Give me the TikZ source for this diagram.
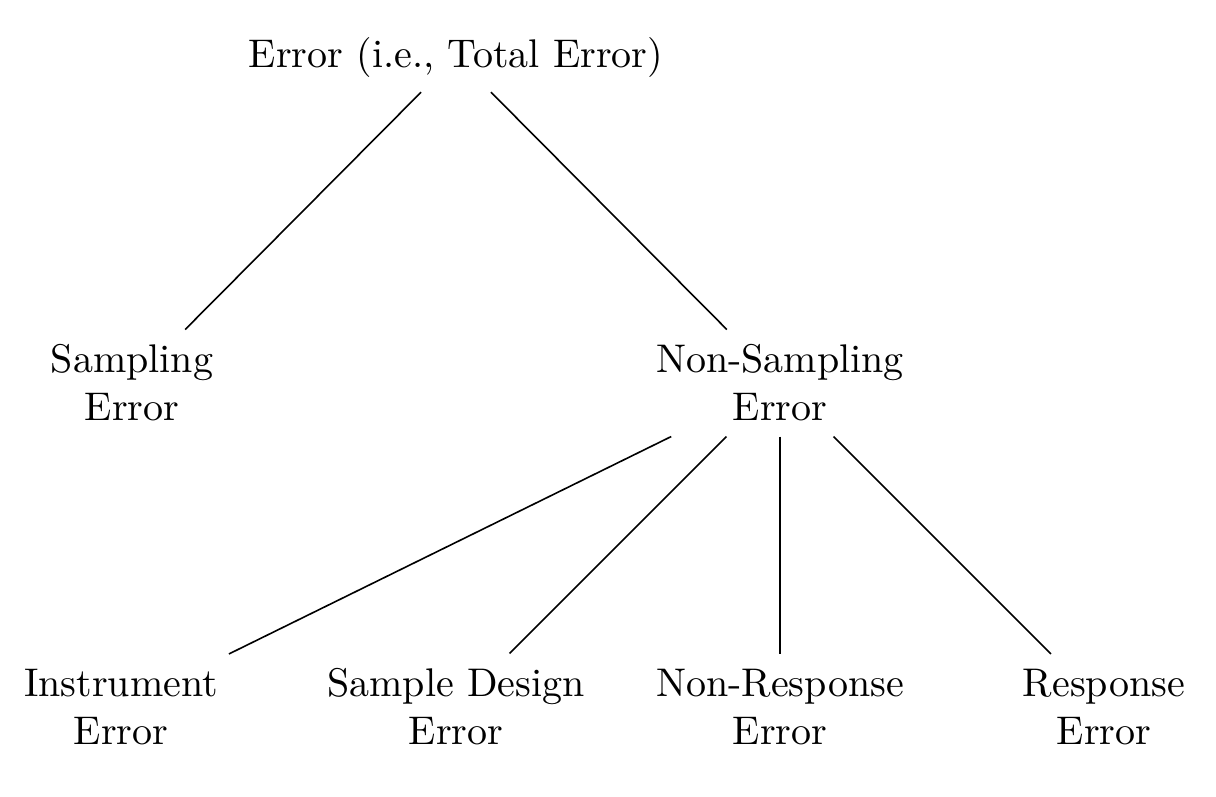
\documentclass[tikz,border=0pt]{standalone}
\begin{document}
\begin{tikzpicture}[x=0.25pt,y=-0.25pt,
  lbl/.style={align=center,inner xsep=4.4pt,inner ysep=3.6pt,font=\normalsize},
  edge/.style={draw=black,line width=0.4pt}]
\useasboundingbox (0,0) rectangle (1216,796);
\node[lbl,anchor=base] (root) at (456,67) {Error (i.e., Total Error)};
\node[lbl] (samp) at (132,383) {Sampling\\Error};
\node[lbl] (nons) at (780,383) {Non-Sampling\\Error};
\node[lbl] (inst) at (121,707) {Instrument\\Error};
\node[lbl] (desg) at (456,707) {Sample Design\\Error};
\node[lbl] (nres) at (780,707) {Non-Response\\Error};
\node[lbl] (resp) at (1104,707) {Response\\Error};
\draw[edge] (root) -- (samp);
\draw[edge] (root) -- (nons);
\draw[edge] (nons) -- (inst);
\draw[edge] (nons) -- (desg);
\draw[edge] (nons) -- (nres);
\draw[edge] (nons) -- (resp);
\end{tikzpicture}
\end{document}
